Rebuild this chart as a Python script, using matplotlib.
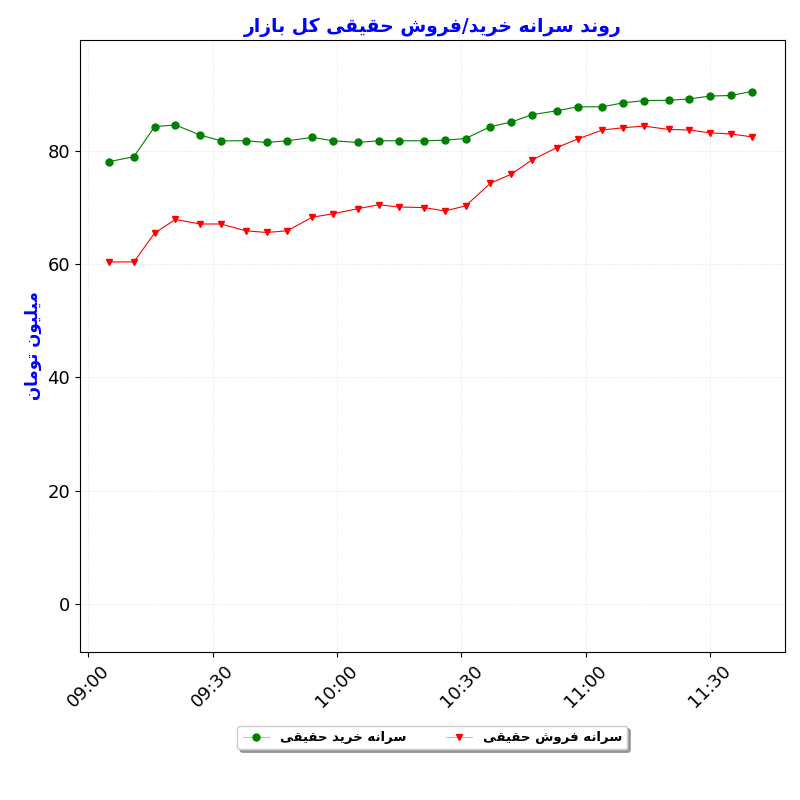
import matplotlib
matplotlib.use("Agg")
import matplotlib.pyplot as plt
import matplotlib.dates as mdates
import datetime as dt

plt.rcParams['font.family'] = ['DejaVu Sans']

times = ["09:05", "09:11", "09:16", "09:21", "09:27", "09:32", "09:38", "09:43", "09:48", "09:54",
         "09:59", "10:05", "10:10", "10:15", "10:21", "10:26", "10:31", "10:37", "10:42", "10:47",
         "10:53", "10:58", "11:04", "11:09", "11:14", "11:20", "11:25", "11:30", "11:35", "11:40"]
buy = [78.1, 79.0, 84.3, 84.6, 82.8, 81.8, 81.8, 81.5, 81.8, 82.4, 81.8, 81.5, 81.8, 81.8, 81.8,
       81.9, 82.2, 84.3, 85.1, 86.4, 87.1, 87.8, 87.8, 88.5, 88.9, 88.95, 89.2, 89.7, 89.8, 90.5]
sell = [60.4, 60.4, 65.5, 67.9, 67.1, 67.1, 65.9, 65.6, 65.9, 68.3, 68.9, 69.8, 70.5, 70.1, 70.0,
        69.4, 70.3, 74.3, 75.9, 78.4, 80.6, 82.1, 83.7, 84.1, 84.4, 83.8, 83.7, 83.2, 83.0, 82.5]

title_txt = "روند سرانه خرید/فروش حقیقی کل بازار"
ylabel_txt = "میلیون تومان"
buy_label = "سرانه خرید حقیقی"
sell_label = "سرانه فروش حقیقی"

FORMS = {
    'ا': (0xFE8D, 0xFE8E, None, None), 'ب': (0xFE8F, 0xFE90, 0xFE91, 0xFE92),
    'ت': (0xFE95, 0xFE96, 0xFE97, 0xFE98), 'ح': (0xFEA1, 0xFEA2, 0xFEA3, 0xFEA4),
    'خ': (0xFEA5, 0xFEA6, 0xFEA7, 0xFEA8), 'د': (0xFEA9, 0xFEAA, None, None),
    'ر': (0xFEAD, 0xFEAE, None, None), 'ز': (0xFEAF, 0xFEB0, None, None),
    'س': (0xFEB1, 0xFEB2, 0xFEB3, 0xFEB4), 'ش': (0xFEB5, 0xFEB6, 0xFEB7, 0xFEB8),
    'ف': (0xFED1, 0xFED2, 0xFED3, 0xFED4), 'ق': (0xFED5, 0xFED6, 0xFED7, 0xFED8),
    'ل': (0xFEDD, 0xFEDE, 0xFEDF, 0xFEE0), 'م': (0xFEE1, 0xFEE2, 0xFEE3, 0xFEE4),
    'ن': (0xFEE5, 0xFEE6, 0xFEE7, 0xFEE8), 'ه': (0xFEE9, 0xFEEA, 0xFEEB, 0xFEEC),
    'و': (0xFEED, 0xFEEE, None, None), 'ی': (0xFBFC, 0xFBFD, 0xFBFE, 0xFBFF),
    'ک': (0xFB8E, 0xFB8F, 0xFB90, 0xFB91),
}

def shape(s):
    out = []
    n = len(s)
    for i, c in enumerate(s):
        if c not in FORMS:
            out.append(c)
            continue
        f = FORMS[c]
        prev = s[i - 1] if i > 0 else None
        nxt = s[i + 1] if i < n - 1 else None
        jp = prev in FORMS and FORMS[prev][2] is not None
        jn = nxt in FORMS and f[2] is not None
        if jp and jn:
            code = f[3]
        elif jp:
            code = f[1]
        elif jn:
            code = f[2]
        else:
            code = f[0]
        out.append(chr(code))
    return "".join(out)[::-1]

x = [dt.datetime.strptime("2024-01-01 " + t, "%Y-%m-%d %H:%M") for t in times]

fig = plt.figure(figsize=(8, 8), dpi=100)
ax = fig.add_axes([0.10, 0.185, 0.881, 0.765])
ax.plot(x, buy, color='green', marker='o', markersize=5, linewidth=0.8, label=shape(buy_label))
ax.plot(x, sell, color='red', marker='v', markersize=5, linewidth=0.8, label=shape(sell_label))

ax.set_ylim(-8.5, 99.6)
ax.set_xlim(dt.datetime(2024, 1, 1, 8, 58), dt.datetime(2024, 1, 1, 11, 48))
ax.set_yticks([0, 20, 40, 60, 80])
ax.xaxis.set_major_locator(mdates.MinuteLocator(byminute=[0, 30]))
ax.xaxis.set_major_formatter(mdates.DateFormatter("%H:%M"))
ax.tick_params(labelsize=13)
plt.setp(ax.get_xticklabels(), rotation=45)
ax.grid(True, linestyle=':', linewidth=0.6, color='#dddddd')

ax.set_title(shape(title_txt), color='blue', fontsize=13.5, fontweight='bold')
ax.set_ylabel(shape(ylabel_txt), color='blue', fontsize=12, fontweight='bold')

leg = ax.legend(loc='upper center', bbox_to_anchor=(0.5, -0.11), ncol=2, shadow=True,
                fancybox=True, prop={'weight': 'bold', 'size': 9.5}, columnspacing=3)
for line, c in zip(leg.get_lines(), ['green', 'red']):
    line.set_color((0, 0.5, 0, 0.35) if c == 'green' else (1, 0, 0, 0.35))
    line.set_markerfacecolor(c)
    line.set_markeredgecolor(c)

fig.savefig("out.png", dpi=100)
